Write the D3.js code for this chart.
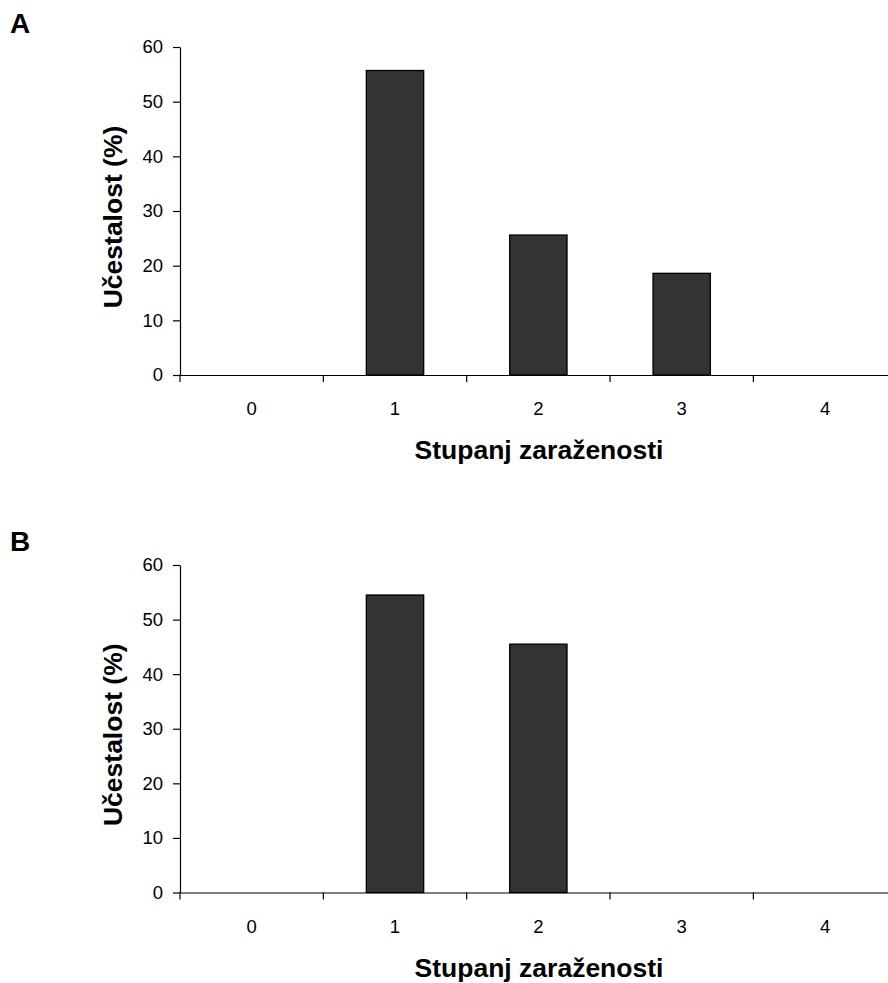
<!DOCTYPE html>
<html><head><meta charset="utf-8">
<script src="https://cdn.jsdelivr.net/npm/d3@7"></script>
<style>body{margin:0;background:#fff}svg{display:block}</style>
</head><body>
<script>
const categories = ["0","1","2","3","4"];
const valuesA = [0, 55.7, 25.6, 18.6, 0];
const valuesB = [0, 54.5, 45.5, 0, 0];
const yTicks = [0,10,20,30,40,50,60];
const panelLabels = ["A","B"];
const xTitle = "Stupanj zaraženosti";
const yTitle = "Učestalost (%)";

const W = 888, H = 983;
const svg = d3.select("body").append("svg").attr("width", W).attr("height", H);
const font = "Liberation Sans, Arial, sans-serif";

const panels = [
  {label: panelLabels[0], values: valuesA, top: 47, bottom: 375, labelY: 33},
  {label: panelLabels[1], values: valuesB, top: 565, bottom: 892.5, labelY: 551}
];

panels.forEach(p => {
  const g = svg.append("g");
  const x = d3.scaleBand().domain(categories).range([180, 896.7]).paddingInner(0).paddingOuter(0);
  const y = d3.scaleLinear().domain([0, 60]).range([p.bottom, p.top]);

  // bars
  const bw = x.bandwidth() * 0.4;
  g.selectAll("rect.bar").data(categories.map((c,i)=>({c, v:p.values[i]})).filter(d=>d.v>0))
    .enter().append("rect")
    .attr("x", d => x(d.c) + (x.bandwidth()-bw)/2)
    .attr("y", d => y(d.v))
    .attr("width", bw)
    .attr("height", d => y(0) - y(d.v))
    .attr("fill", "#333333")
    .attr("stroke", "#000")
    .attr("stroke-width", 1.3);

  // y axis
  const ya = g.append("g").attr("transform", "translate(180,0)")
    .call(d3.axisLeft(y).tickValues(yTicks).tickSize(7).tickPadding(10).tickSizeOuter(0));
  ya.select(".domain").attr("stroke", "#000").attr("stroke-width", 1.2);
  ya.selectAll(".tick line").attr("stroke", "#000").attr("stroke-width", 1.2);
  ya.selectAll("text").attr("font-family", font).attr("font-size", 18.5).attr("fill", "#000");

  // x axis
  const xa = g.append("g").attr("transform", `translate(0,${p.bottom})`)
    .call(d3.axisBottom(x).tickSize(0).tickPadding(27).tickSizeOuter(0));
  xa.select(".domain").attr("stroke", "#000").attr("stroke-width", 1.2);
  xa.selectAll("text").attr("font-family", font).attr("font-size", 18.5).attr("fill", "#000");
  // boundary ticks between categories
  const bounds = categories.map(c => x(c));
  xa.selectAll("line.bt").data(bounds).enter().append("line")
    .attr("x1", d=>d).attr("x2", d=>d).attr("y1", 0).attr("y2", 7)
    .attr("stroke", "#000").attr("stroke-width", 1.2);

  // x title
  g.append("text").attr("x", 539).attr("y", p.bottom + 84)
    .attr("text-anchor", "middle").attr("font-family", font)
    .attr("font-weight", "bold").attr("font-size", 26.5).text(xTitle);

  // y title
  g.append("text").attr("transform", `translate(122,${(p.top+p.bottom)/2 + 6}) rotate(-90)`)
    .attr("text-anchor", "middle").attr("font-family", font)
    .attr("font-weight", "bold").attr("font-size", 26.5).text(yTitle);

  // panel label
  g.append("text").attr("x", 10).attr("y", p.labelY)
    .attr("font-family", font).attr("font-weight", "bold").attr("font-size", 28).text(p.label);
});
</script>
</body></html>
